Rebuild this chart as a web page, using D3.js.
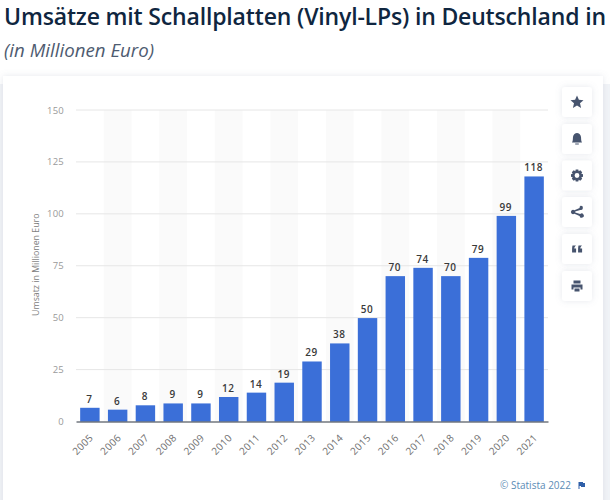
<!DOCTYPE html>
<html>
<head>
<meta charset="utf-8">
<script src="https://cdn.jsdelivr.net/npm/d3@7"></script>
<style>
  html, body { margin: 0; padding: 0; background: #fff; overflow: hidden; }
  text { font-family: "Open Sans", sans-serif; }
</style>
</head>
<body>
<div id="chart"></div>
<script>
const years = ['2005', '2006', '2007', '2008', '2009', '2010', '2011', '2012', '2013',
  '2014', '2015', '2016', '2017', '2018', '2019', '2020', '2021'];
const revenue = [6.6, 5.7, 7.8, 8.7, 8.7, 11.8, 13.9, 18.7, 28.9, 37.6, 49.8, 70, 74, 70, 78.8, 99, 118];
const yTicks = [0, 25, 50, 75, 100, 125, 150];
const titleText = 'Umsätze mit Schallplatten (Vinyl-LPs) in Deutschland in';
const subtitleText = '(in Millionen Euro)';
const yLabel = 'Umsatz in Millionen Euro';
const creditText = '© Statista 2022';

const width = 610;
const height = 500;
const margin = { left: 76, right: 62, top: 110, bottom: 78.5 };

const svg = d3.select('#chart').append('svg')
  .attr('width', width)
  .attr('height', height)
  .style('display', 'block');

const defs = svg.append('defs');
const blur = defs.append('filter').attr('id', 'soft')
  .attr('x', '-30%').attr('y', '-30%').attr('width', '160%').attr('height', '160%');
blur.append('feDropShadow')
  .attr('dx', 0).attr('dy', 0).attr('stdDeviation', 3)
  .attr('flood-color', '#7f8ba3').attr('flood-opacity', 0.2);

// page header
svg.append('text')
  .attr('x', 4).attr('y', 25)
  .attr('font-size', 23).attr('font-weight', 600)
  .attr('textLength', 602)
  .attr('lengthAdjust', 'spacing')
  .attr('fill', '#0f2640')
  .text(titleText);
svg.append('text')
  .attr('x', 4).attr('y', 57)
  .attr('font-size', 18.7).attr('font-style', 'italic')
  .attr('fill', '#4e5b70')
  .text(subtitleText);

// grey page strip behind the card
svg.append('rect')
  .attr('x', 0).attr('y', 84).attr('width', width).attr('height', height - 84)
  .attr('fill', '#f1f3f7');

// card
svg.append('rect')
  .attr('x', 3).attr('y', 76).attr('width', 600).attr('height', 440)
  .attr('fill', '#fff')
  .attr('filter', 'url(#soft)');

const x = d3.scaleBand()
  .domain(years)
  .range([margin.left, width - margin.right])
  .paddingInner(0.3)
  .paddingOuter(0.15);

const y = d3.scaleLinear()
  .domain([0, 150])
  .range([height - margin.bottom, margin.top]);

const step = x.step();

// alternate column shading
svg.append('g').selectAll('rect')
  .data(years.filter((d, i) => i % 2 === 1))
  .enter().append('rect')
  .attr('x', d => x(d) + x.bandwidth() / 2 - step / 2)
  .attr('y', y(150))
  .attr('width', step)
  .attr('height', y(0) - y(150))
  .attr('fill', '#fafafa');

// y axis
const yAxis = d3.axisLeft(y).tickValues(yTicks).tickSize(0).tickPadding(12);
const yG = svg.append('g')
  .attr('transform', 'translate(' + margin.left + ',0)')
  .call(yAxis);
yG.select('.domain').remove();
yG.selectAll('text')
  .attr('font-size', 9.5)
  .style('font-family', '"Open Sans", sans-serif')
  .attr('letter-spacing', 0.2)
  .attr('fill', '#9a9a9a');

// grid
svg.append('g').selectAll('line')
  .data(yTicks.filter(d => d > 0))
  .enter().append('line')
  .attr('x1', margin.left)
  .attr('x2', width - margin.right)
  .attr('y1', d => y(d))
  .attr('y2', d => y(d))
  .attr('stroke', '#e6e6e6');

svg.append('text')
  .attr('transform', 'translate(39,' + (y(0) + y(150)) / 2 + ') rotate(-90)')
  .attr('x', 1).attr('y', 0)
  .attr('text-anchor', 'middle')
  .attr('font-size', 8.8)
  .attr('fill', '#808080')
  .text(yLabel);

// bars
svg.append('g').selectAll('rect')
  .data(revenue)
  .enter().append('rect')
  .attr('x', (d, i) => x(years[i]))
  .attr('y', d => y(d))
  .attr('width', x.bandwidth())
  .attr('height', d => y(0) - y(d))
  .attr('fill', '#3b6fd8');

// value labels
svg.append('g').selectAll('text')
  .data(revenue)
  .enter().append('text')
  .attr('x', (d, i) => x(years[i]) + x.bandwidth() / 2 - 0.5)
  .attr('y', d => y(d) - 5)
  .attr('text-anchor', 'middle')
  .attr('font-size', 10)
  .attr('font-weight', 600)
  .attr('letter-spacing', 0.6)
  .attr('fill', '#3a3a3a')
  .text(d => d3.format('.0f')(d));

// x axis
const xAxis = d3.axisBottom(x).tickSize(0).tickPadding(0);
const xG = svg.append('g')
  .attr('transform', 'translate(0,' + y(0) + ')')
  .call(xAxis);
xG.select('.domain')
  .attr('stroke', '#2c3440')
  .attr('stroke-width', 1.2);
xG.selectAll('text')
  .style('font-family', '"Open Sans", sans-serif')
  .attr('font-size', 10)
  .attr('letter-spacing', 0.3)
  .attr('fill', '#6f6f6f')
  .attr('text-anchor', 'end')
  .attr('dy', 0)
  .attr('transform', 'translate(4,17) rotate(-45)');

// toolbar
const iconPaths = [
  'M0,-6.5L1.9,-2.2L6.5,-1.8L3,1.3L4.1,5.9L0,3.5L-4.1,5.9L-3,1.3L-6.5,-1.8L-1.9,-2.2Z',
  'M-5,3.5C-4,2-4.2,0-4,-2C-3.7,-4.8-1.7,-6 0,-6C1.7,-6 3.7,-4.8 4,-2C4.2,0 4,2 5,3.5ZM-1.8,4.6H1.8V5.6H-1.8Z',
  'M-1.3,-6H1.3L1.7,-4.3L3.3,-5.2L5.2,-3.3L4.3,-1.7L6,-1.3V1.3L4.3,1.7L5.2,3.3L3.3,5.2L1.7,4.3L1.3,6H-1.3L-1.7,4.3L-3.3,5.2L-5.2,3.3L-4.3,1.7L-6,1.3V-1.3L-4.3,-1.7L-5.2,-3.3L-3.3,-5.2L-1.7,-4.3ZM0,-2.4A2.4,2.4 0 1 0 0,2.4A2.4,2.4 0 1 0 0,-2.4Z',
  'M3.6,-6.2A2.1,2.1 0 1 1 3.2,-2.1L-1.8,-0.6V0.6L3.2,2.1A2.1,2.1 0 1 1 2.6,3.9L-2.6,1.8A2.2,2.2 0 1 1 -2.6,-1.8L2.6,-3.9A2.1,2.1 0 0 1 3.6,-6.2Z',
  'M-4.5,-3.5C-5,-1.5-4.9,0-4.9,3.5H-0.9V-0.5H-2.7C-2.7,-1.5-2.2,-2.5-1,-3.5ZM1.5,-3.5C1,-1.5 1.1,0 1.1,3.5H5.1V-0.5H3.3C3.3,-1.5 3.8,-2.5 5,-3.5Z',
  'M-3.5,-5.5H3.5V-2.5H-3.5ZM-5.5,-1.5H5.5V3.5H3.5V1.5H-3.5V3.5H-5.5ZM-2.5,2.5H2.5V5.5H-2.5Z'
];
const iconY = [102, 139, 175.5, 212, 249, 286];

const btn = svg.append('g').selectAll('g')
  .data(iconPaths)
  .enter().append('g')
  .attr('transform', (d, i) => 'translate(577,' + iconY[i] + ')');
btn.append('rect')
  .attr('x', -15).attr('y', -15)
  .attr('width', 30).attr('height', 30)
  .attr('rx', 3)
  .attr('fill', '#fff')
  .attr('filter', 'url(#soft)');
btn.append('path')
  .attr('d', d => d)
  .attr('fill', '#47546e')
  .attr('fill-rule', 'evenodd');

// credit
svg.append('text')
  .attr('x', 571).attr('y', 489)
  .attr('text-anchor', 'end')
  .attr('font-size', 10)
  .attr('fill', '#5b8bb5')
  .text(creditText);
svg.append('path')
  .attr('d', 'M578.5,482H583V483H585V487H581V486H579.5V489H578.5Z')
  .attr('fill', '#2f5fa8');
</script>
</body>
</html>
